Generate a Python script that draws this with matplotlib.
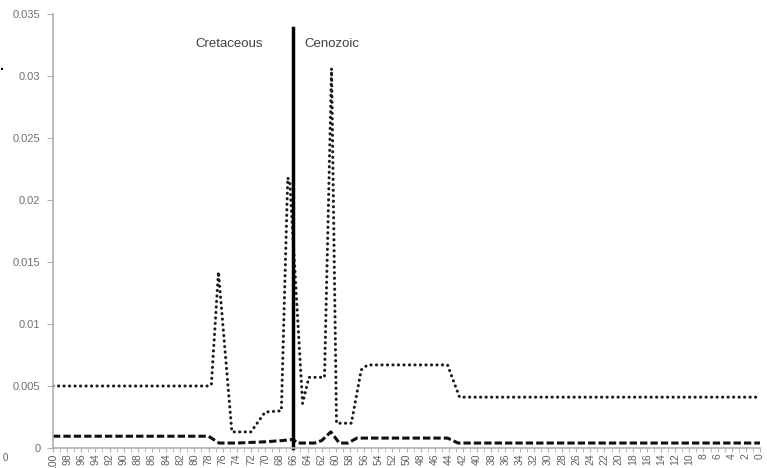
import matplotlib
matplotlib.use("Agg")
import matplotlib.pyplot as plt
from matplotlib.ticker import FixedLocator

# Dotted series: age, value
dot_age = [100, 78, 77.6, 76.6, 74.7, 72.0, 70.0, 67.7, 66.8, 66.5, 64.7, 63.8, 61.6,
           60.6, 59.9, 57.8, 56.4, 55.5, 44.2, 42.5, 0]
dot_val = [0.005, 0.005, 0.0051, 0.0142, 0.0013, 0.0013, 0.0029, 0.0030, 0.0218, 0.0214,
           0.0036, 0.0057, 0.0057, 0.0306, 0.0020, 0.0020, 0.0063, 0.0067, 0.0067, 0.0041, 0.0041]

# Dashed series
dash_age = [100, 78, 76.5, 74, 70, 67.5, 66.0, 65.5, 63.0, 62.0, 60.7, 59.5, 58.3, 57.0,
            44.2, 42.7, 0]
dash_val = [0.00095, 0.00095, 0.0004, 0.0004, 0.0005, 0.0006, 0.0007, 0.0004, 0.0004,
            0.0006, 0.0013, 0.0004, 0.0004, 0.0008, 0.0008, 0.0004, 0.0004]

boundary_age = 66
boundary_top = 0.0339
period_labels = ["Cretaceous", "Cenozoic"]

y_ticks = [0, 0.005, 0.01, 0.015, 0.02, 0.025, 0.03, 0.035]
y_labels = ["0", "0.005", "0.01", "0.015", "0.02", "0.025", "0.03", "0.035"]
x_ticks = list(range(100, -1, -2))
x_labels = [str(v) for v in x_ticks]

plt.rcParams["font.family"] = ["Liberation Sans", "DejaVu Sans"]

fig = plt.figure(figsize=(7.67, 4.68), dpi=100)
ax = fig.add_axes([53 / 767, 20 / 468, 707 / 767, 434 / 468])

# round dots: tiny dash + round caps
ax.plot(dot_age, dot_val, color="#1a1a1a", lw=2.2, linestyle=(0, (0.05, 1.75)),
        dash_capstyle="round", solid_joinstyle="round")
ax.plot(dash_age, dash_val, color="#111111", lw=2.2, linestyle=(0, (2.4, 1.0)))
ax.plot([boundary_age, boundary_age], [0, boundary_top], color="black", lw=2.5,
        clip_on=False)

ax.text(70.3, 0.0326, period_labels[0], ha="right", va="center", fontsize=9.5, color="#404040")
ax.text(64.4, 0.0326, period_labels[1], ha="left", va="center", fontsize=9.5, color="#404040")

ax.set_xlim(100, 0)
ax.set_ylim(0, 0.035)

ax.set_yticks(y_ticks)
ax.set_yticklabels(y_labels)
ax.set_xticks(x_ticks)
ax.set_xticklabels(x_labels, rotation=90)
ax.xaxis.set_minor_locator(FixedLocator(range(0, 101)))

for s in ["top", "right"]:
    ax.spines[s].set_visible(False)
for s in ["left", "bottom"]:
    ax.spines[s].set_color("#b0b0b0")
    ax.spines[s].set_linewidth(1.2)

ax.tick_params(axis="y", colors="#b0b0b0", labelcolor="#707070", labelsize=8, length=4, pad=5)
ax.tick_params(axis="x", which="both", colors="#b0b0b0", labelcolor="#606060",
               labelsize=7.5, length=3, pad=1)

# stray bits from the cropped neighbour picture
fig.text(3 / 767, 1 - 458 / 468, "0", fontsize=7, color="#606060", va="center")
fig.text(0 / 767, 1 - 66 / 468, ".", fontsize=10, color="black", va="center", fontweight="bold")

fig.savefig("out.png", dpi=100)
